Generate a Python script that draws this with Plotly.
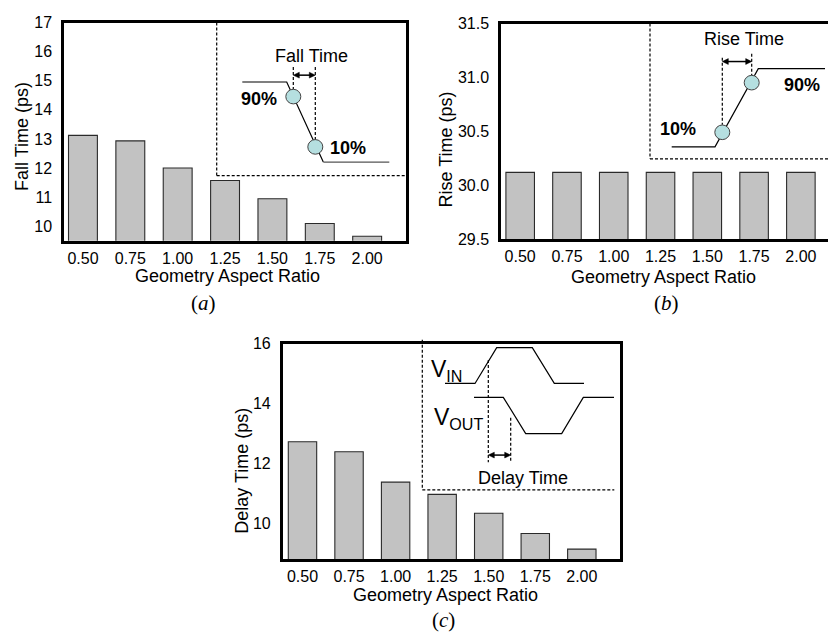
import plotly.graph_objects as go

W, H = 828, 639

categories = ["0.50", "0.75", "1.00", "1.25", "1.50", "1.75", "2.00"]
fall_time = [13.12, 12.93, 12.00, 11.57, 10.94, 10.09, 9.65]
rise_time = [30.12, 30.12, 30.12, 30.12, 30.12, 30.12, 30.12]
delay_time = [12.72, 12.39, 11.37, 10.96, 10.33, 9.65, 9.13]

fall_ticks = [10, 11, 12, 13, 14, 15, 16, 17]
rise_ticks = [29.5, 30.0, 30.5, 31.0, 31.5]
delay_ticks = [10, 12, 14, 16]

SANS = "Liberation Sans, Arial, sans-serif"
SERIF = "Liberation Serif, Times New Roman, serif"
BAR_FILL = "#c2c2c2"
BAR_LINE = "#2a2a2a"
CYAN = "#b5dfe0"


def px(x):
    return x / W


def py(y):
    return 1 - y / H


fig = go.Figure()
for vals, xa, ya in [(fall_time, "x", "y"), (rise_time, "x2", "y2"), (delay_time, "x3", "y3")]:
    fig.add_trace(go.Bar(x=categories, y=vals, xaxis=xa, yaxis=ya, width=0.61,
                         marker=dict(color=BAR_FILL, line=dict(color=BAR_LINE, width=1.1)),
                         showlegend=False, hoverinfo="skip"))

base_axis = dict(showgrid=False, zeroline=False, showline=True, linecolor="black",
                 linewidth=2.5, ticks="outside", tickcolor="rgba(0,0,0,0)",
                 tickfont=dict(family=SANS, size=16, color="black"), fixedrange=True)
xaxis_common = dict(base_axis, ticklen=1)
yaxis_common = dict(base_axis, ticklen=6)

shapes = []
annotations = []


def line(x0, y0, x1, y1, dash=None, color="black", width=1.2):
    d = dict(type="line", xref="paper", yref="paper", x0=px(x0), y0=py(y0), x1=px(x1), y1=py(y1),
             line=dict(color=color, width=width))
    if dash:
        d["line"]["dash"] = "3px,2px"
    shapes.append(d)


def poly(pts, color="black", width=1.2, fill=None, closed=False):
    path = "M " + " L ".join(f"{px(x):.5f},{py(y):.5f}" for x, y in pts)
    if closed:
        path += " Z"
    d = dict(type="path", xref="paper", yref="paper", path=path,
             line=dict(color=color, width=width))
    if fill:
        d["fillcolor"] = fill
    shapes.append(d)


def circle(cx, cy, r=7.5):
    shapes.append(dict(type="circle", xref="paper", yref="paper",
                       x0=px(cx - r), x1=px(cx + r), y0=py(cy + r), y1=py(cy - r),
                       fillcolor=CYAN, line=dict(color="#444", width=1)))


def text(x, y, s, size=18, bold=False, family=SANS, angle=0, xanchor="center"):
    if bold:
        s = f"<b>{s}</b>"
    annotations.append(dict(x=px(x), y=py(y), xref="paper", yref="paper", text=s, showarrow=False,
                            xanchor=xanchor, yanchor="middle", textangle=angle,
                            font=dict(family=family, size=size, color="black")))


def darrow(x0, x1, y, head=6, half=3):
    line(x0 + 2, y, x1 - 2, y, width=1.5)
    poly([(x0, y), (x0 + head, y - half), (x0 + head, y + half)], width=0.5, fill="black", closed=True)
    poly([(x1, y), (x1 - head, y - half), (x1 - head, y + half)], width=0.5, fill="black", closed=True)


# ---------------- Panel (a) ----------------
fig.update_layout(
    xaxis=dict(domain=[px(64), px(406)], anchor="y", range=[-0.40, 6.82], mirror=True, **xaxis_common),
    yaxis=dict(domain=[py(239), py(15)], anchor="x", range=[9.5, 17], tickvals=fall_ticks,
               mirror=True, **yaxis_common),
)
line(216.7, 15, 216.7, 172.3, dash=True)
line(216.7, 172.3, 409, 172.3, dash=True)
poly([(242.3, 76), (286.7, 76), (323.3, 158.3)])
line(323.3, 158.3, 389.3, 158.3, color="#555")
line(293.3, 60.7, 293.3, 84, dash=True)
line(315.3, 60.7, 315.3, 136, dash=True)
circle(293.3, 91)
circle(315.3, 142.7)
darrow(293.3, 315.3, 69)
text(311.7, 49.3, "Fall Time")
text(259, 93, "90%", bold=True)
text(348, 144, "10%", bold=True)
text(21.7, 131.7, "Fall Time (ps)", angle=-90)
text(227, 275, "Geometry Aspect Ratio")
text(203, 303, "(<i>a</i>)", size=21, family=SERIF)

# ---------------- Panel (b) ----------------
fig.update_layout(
    xaxis2=dict(domain=[px(501), 1.0], anchor="y2", range=[-0.41, 6.58], mirror=True, **xaxis_common),
    yaxis2=dict(domain=[py(237.5), py(16)], anchor="x2", range=[29.5, 31.5], tickvals=rise_ticks,
                tickformat=".1f", mirror=False, **yaxis_common),
)
line(650, 16, 650, 155, dash=True)
line(650, 155, 828, 155, dash=True)
poly([(671.7, 142.7), (715, 142.7), (758.3, 62.3), (825, 62.3)])
line(722.3, 51, 722.3, 120, dash=True)
line(751.7, 47, 751.7, 70, dash=True)
circle(722.3, 127.7)
circle(751.7, 76.7)
darrow(722.3, 751.7, 55)
text(744.3, 32.3, "Rise Time")
text(678.3, 124, "10%", bold=True)
text(801.7, 79, "90%", bold=True)
text(445.7, 145.7, "Rise Time (ps)", angle=-90)
text(663.3, 276.7, "Geometry Aspect Ratio")
text(666.7, 302.7, "(<i>b</i>)", size=21, family=SERIF)

# ---------------- Panel (c) ----------------
fig.update_layout(
    xaxis3=dict(domain=[px(282.7), px(620)], anchor="y3", range=[-0.425, 6.82], mirror=True, **xaxis_common),
    yaxis3=dict(domain=[py(566), py(345)], anchor="x3", range=[8.8, 16.0], tickvals=delay_ticks,
                mirror=True, **yaxis_common),
)
line(422.3, 340.7, 422.3, 495, dash=True)
line(422.3, 495, 614.3, 495, dash=True)
poly([(445, 385.7), (475, 385.7), (496.7, 349), (532.3, 349), (554.3, 385.7), (584, 385.7)])
poly([(474, 400), (503.3, 400), (525.7, 437.3), (561.7, 437.3), (583.3, 400), (614, 400)])
line(488.3, 361.7, 488.3, 466.7, dash=True)
line(510.7, 421, 510.7, 466.7, dash=True)
darrow(488.3, 510.7, 459.3)
text(522.7, 483.3, "Delay Time")
text(429, 372, "V<sub>IN</sub>", size=23, xanchor="left")
text(432, 422, "V<sub>OUT</sub>", size=23, xanchor="left")
text(242.3, 475, "Delay Time (ps)", angle=-90)
text(445, 602.7, "Geometry Aspect Ratio")
text(443.3, 628.3, "(<i>c</i>)", size=21, family=SERIF)

fig.update_layout(
    width=W, height=H, autosize=False,
    margin=dict(l=0, r=0, t=0, b=0, pad=0),
    paper_bgcolor="white", plot_bgcolor="white",
    bargap=0.3, shapes=shapes, annotations=annotations,
    font=dict(family=SANS, color="black"),
)

fig.write_html("out.html", config={"displayModeBar": False})
